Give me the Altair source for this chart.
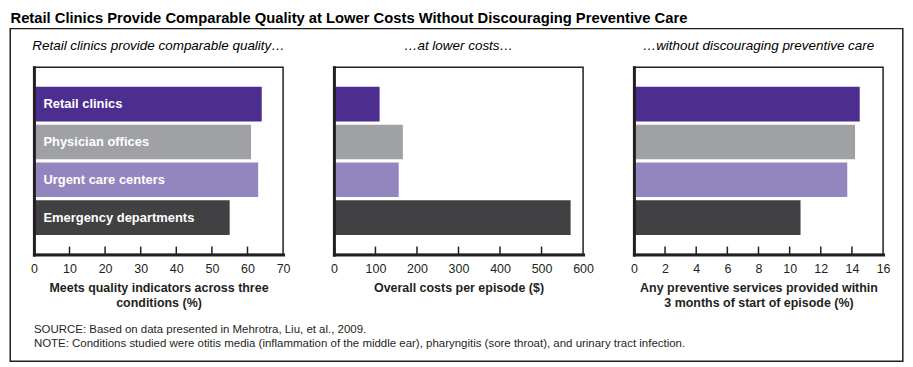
import altair as alt
import pandas as pd

# ---- data ----
categories = ["Retail clinics", "Physician offices", "Urgent care centers", "Emergency departments"]
bar_colors = ["#4b2e8f", "#a0a1a4", "#9385bd", "#414042"]
quality = [64, 61, 63, 55]
costs = [110, 166, 156, 570]
preventive = [14.5, 14.2, 13.7, 10.7]

panel_titles = [
    "Retail clinics provide comparable quality…",
    "…at lower costs…",
    "…without discouraging preventive care",
]
axis_titles = [
    ["Meets quality indicators across three", "conditions (%)"],
    ["Overall costs per episode ($)"],
    ["Any preventive services provided within", "3 months of start of episode (%)"],
]
domains = [[0, 70], [0, 600], [0, 16]]
tick_values = [
    [0, 10, 20, 30, 40, 50, 60, 70],
    [0, 100, 200, 300, 400, 500, 600],
    [0, 2, 4, 6, 8, 10, 12, 14, 16],
]
main_title = "Retail Clinics Provide Comparable Quality at Lower Costs Without Discouraging Preventive Care"
notes = [
    "SOURCE: Based on data presented in Mehrotra, Liu, et al., 2009.",
    "NOTE: Conditions studied were otitis media (inflammation of the middle ear), pharyngitis (sore throat), and urinary tract infection.",
]

DARK = "#231f20"
FONT = "Liberation Sans"
W, H = 250, 188


def x_enc(field, i):
    return alt.X(
        field,
        type="quantitative",
        scale=alt.Scale(domain=domains[i], nice=False, zero=True),
        axis=alt.Axis(
            values=tick_values[i],
            title=axis_titles[i],
            format="d",
        ),
    )


y_enc = alt.Y(
    "cat:N",
    sort=categories,
    scale=alt.Scale(paddingInner=0.087, paddingOuter=0.52),
    axis=alt.Axis(labels=False, ticks=False, title=None, domainWidth=3,
                  domainColor=DARK, zindex=1, grid=False, domainCap="square"),
)


def panel(i, values, extra_layers=()):
    df = pd.DataFrame({"cat": categories, "v": values})
    tdf = pd.DataFrame({"t": tick_values[i][1:-1]})
    bars = alt.Chart(df).mark_bar().encode(
        x=x_enc("v", i),
        y=y_enc,
        color=alt.Color("cat:N", scale=alt.Scale(domain=categories, range=bar_colors), legend=None),
    )
    ticks = alt.Chart(tdf).mark_rule(color=DARK, strokeWidth=1.5).encode(
        x=x_enc("t", i),
        y=alt.value(H - 8),
        y2=alt.value(H),
    )
    ptitle = alt.Chart(pd.DataFrame({"t": [panel_titles[i]]})).mark_text(
        align="center", baseline="alphabetic", font=FONT, fontSize=13.5,
        fontStyle="italic", color="black",
    ).encode(x=alt.value(W / 2), y=alt.value(-17), text="t:N")
    layers = [bars, ticks, ptitle] + list(extra_layers)
    return alt.layer(*layers).properties(width=W, height=H)


# labels inside bars (first panel)
label_df = pd.DataFrame({"cat": categories})
bar_labels = alt.Chart(label_df).mark_text(
    align="left", baseline="middle", dx=9.5, color="white",
    font=FONT, fontSize=13, fontWeight="bold",
).encode(x=alt.value(0), y=y_enc, text="cat:N")

# main title, notes and outer frame (drawn from first panel)
title_df = pd.DataFrame({"t": [main_title]})
title_mark = alt.Chart(title_df).mark_text(
    align="left", baseline="alphabetic", font=FONT, fontSize=14.8,
    fontWeight="bold", color="black",
).encode(x=alt.value(-23.5), y=alt.value(-44.5), text="t:N")

notes_df = pd.DataFrame({"t": ["\n".join(notes)]})
notes_mark = alt.Chart(notes_df).mark_text(
    align="left", baseline="alphabetic", font=FONT, fontSize=11.5,
    color=DARK, lineBreak="\n", lineHeight=14,
).encode(x=alt.value(0), y=alt.value(267), text="t:N")

frame_df = pd.DataFrame({"f": [1]})
frame_mark = alt.Chart(frame_df).mark_rect(
    fill=None, stroke=DARK, strokeWidth=1.5,
).encode(x=alt.value(-23.75), x2=alt.value(871.8), y=alt.value(-38.7), y2=alt.value(295))

p1 = panel(0, quality, [bar_labels, title_mark, notes_mark, frame_mark])
p2 = panel(1, costs)
p3 = panel(2, preventive)

chart = alt.hconcat(p1, p2, p3, spacing=51, bounds="flush").properties(
    padding={"left": 0, "top": 0.8, "right": 0, "bottom": 0},
).configure_view(
    stroke=DARK, strokeWidth=1.5,
).configure_axisX(
    domainWidth=3, domainColor=DARK, domainCap="square", ticks=False,
    labelFont=FONT, labelFontSize=12.5, labelColor=DARK, labelPadding=7.5,
    labelOverlap=False, labelFlush=False,
    titleFont=FONT, titleFontSize=12.5, titleFontWeight="bold", titleColor=DARK,
    titlePadding=7, titleLineHeight=15, zindex=1, grid=False,
).configure_axisY(grid=False)

chart.save("out.html", embed_options={"renderer": "svg", "actions": False})
